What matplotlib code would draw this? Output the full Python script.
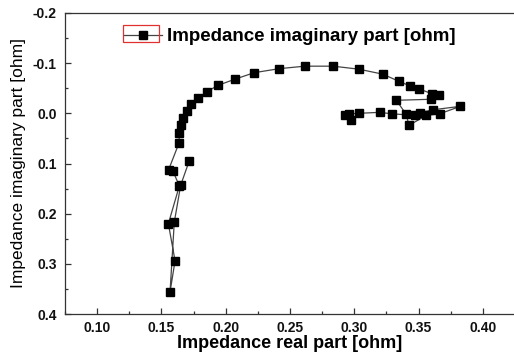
import matplotlib
matplotlib.use('Agg')
import matplotlib.pyplot as plt
from matplotlib.ticker import MultipleLocator
from matplotlib.patches import Rectangle

plt.rcParams['font.family'] = ['Liberation Sans', 'DejaVu Sans']

# impedance data, in plotting order
z_real = [0.1716, 0.1650, 0.1600, 0.1567, 0.1606, 0.1554, 0.1639, 0.1590, 0.1555,
          0.1637, 0.1639, 0.1650, 0.1665, 0.1696, 0.1732, 0.1782, 0.1852, 0.1942,
          0.2071, 0.2221, 0.2415, 0.2615, 0.2835, 0.3036, 0.3223, 0.3345, 0.3430,
          0.3502, 0.3603, 0.3657, 0.3593, 0.3327, 0.3404, 0.3425, 0.3560, 0.3663,
          0.3826, 0.3610, 0.3508, 0.3470, 0.3293, 0.3197, 0.3036, 0.2959, 0.2925,
          0.2977]
z_imag = [0.095, 0.143, 0.217, 0.356, 0.294, 0.220, 0.145, 0.115, 0.113,
          0.059, 0.040, 0.024, 0.010, -0.004, -0.018, -0.030, -0.043, -0.056,
          -0.068, -0.081, -0.089, -0.094, -0.094, -0.088, -0.078, -0.064, -0.055,
          -0.049, -0.039, -0.037, -0.028, -0.026, 0.002, 0.024, 0.004, 0.001,
          -0.014, -0.007, -0.001, 0.004, 0.001, -0.002, 0.000, 0.001, 0.004,
          0.0125]

fig = plt.figure(figsize=(5.14, 3.63), dpi=100)
ax = fig.add_axes([65/514, 49/363, 450/514, 301/363])

ax.plot(z_real, z_imag, '-', color='#444444', lw=0.9,
        marker='s', ms=5.5, mfc='black', mec='black',
        label='Impedance imaginary part [ohm]')

ax.set_xlim(0.075, 0.425)
ax.set_ylim(0.4, -0.2)
ax.xaxis.set_minor_locator(MultipleLocator(0.025))
ax.yaxis.set_minor_locator(MultipleLocator(0.05))
ax.set_xticks([0.10, 0.15, 0.20, 0.25, 0.30, 0.35, 0.40])
ax.set_xticklabels(['0.10', '0.15', '0.20', '0.25', '0.30', '0.35', '0.40'])
ax.set_yticks([-0.2, -0.1, 0.0, 0.1, 0.2, 0.3, 0.4])
ax.set_yticklabels(['-0.2', '-0.1', '0.0', '0.1', '0.2', '0.3', '0.4'])

ax.tick_params(which='both', direction='in', colors='#333333', labelcolor='#111111')
ax.tick_params(which='major', length=4, width=0.9, labelsize=10)
ax.tick_params(which='minor', length=2.5, width=0.9)
ax.tick_params(axis='x', pad=5)
ax.tick_params(axis='y', pad=6)
for lab in ax.get_xticklabels() + ax.get_yticklabels():
    lab.set_fontweight('bold')
for s in ax.spines.values():
    s.set_color('#333333')
    s.set_linewidth(0.9)

ax.set_xlabel('Impedance real part [ohm]', fontsize=13, fontweight='bold', labelpad=0)
ax.set_ylabel('Impedance imaginary part [ohm]', fontsize=12.5, labelpad=5)

leg = ax.legend(loc='upper left', bbox_to_anchor=(0.115, 0.975), frameon=False,
                prop={'size': 13.5, 'weight': 'bold'}, handlelength=2.0,
                handletextpad=0.3, borderaxespad=0)
fig.patches.append(Rectangle((123/514, 1 - 42/363), 36/514, 17/363,
                             transform=fig.transFigure, fill=False,
                             edgecolor='#e03030', lw=0.9))

fig.savefig('out.png', dpi=100)
